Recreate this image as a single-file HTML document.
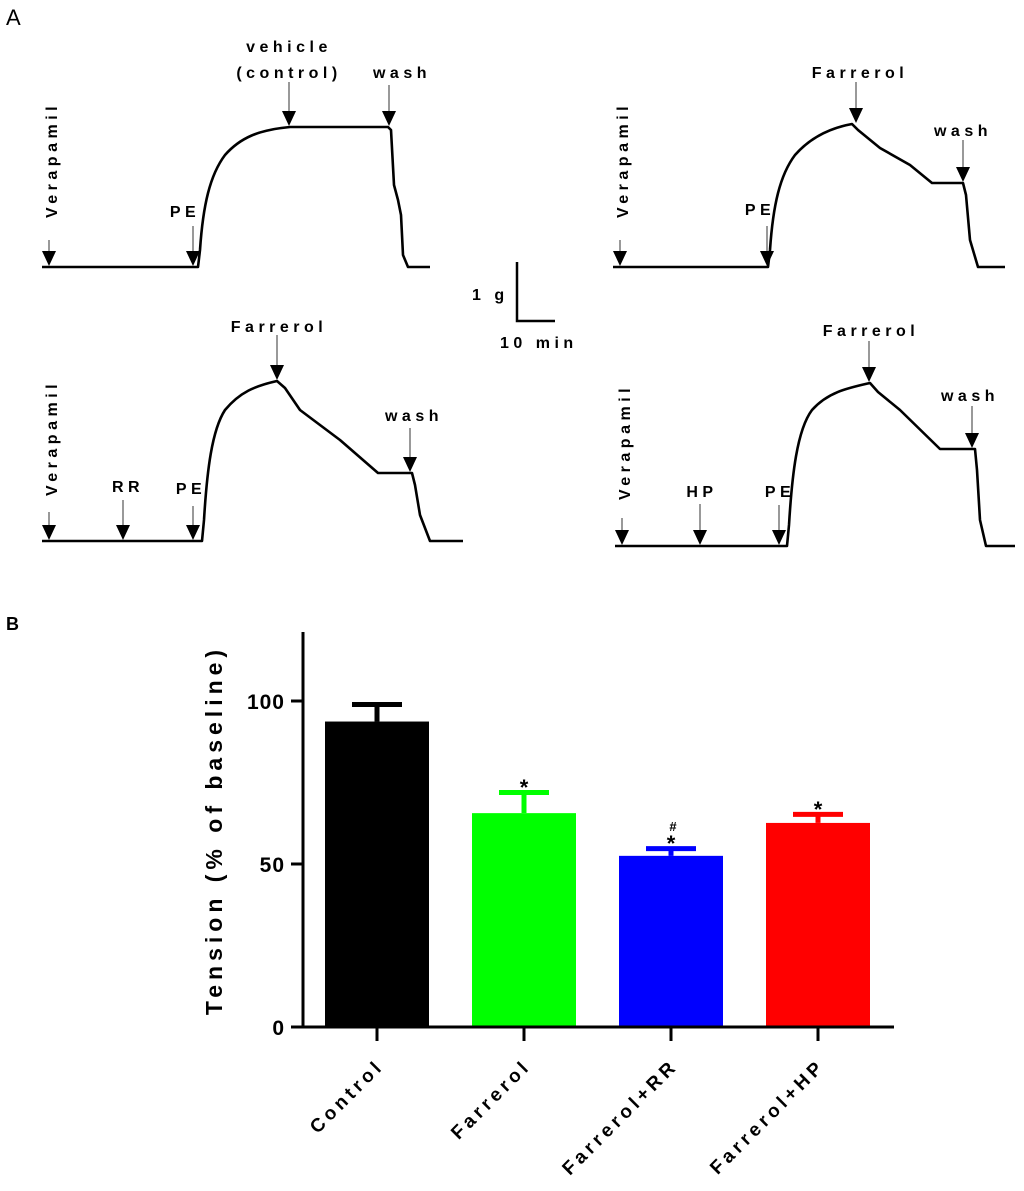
<!DOCTYPE html>
<html><head><meta charset="utf-8">
<style>
html,body{margin:0;padding:0;background:#fff;}
svg{display:block;font-family:"Liberation Sans",Arial,sans-serif;}
.lbl{font-weight:bold;font-size:16px;letter-spacing:4.5px;}
</style></head>
<body>
<svg id="fig" width="1024" height="1191" viewBox="0 0 1024 1191">
<text x="6" y="25" font-size="22">A</text>
<text x="6" y="630" font-size="18" font-weight="bold">B</text>
<g id="traces"></g>
<g>
<path d="M517 262 V321 H555" fill="none" stroke="#000" stroke-width="2.5"/>
<text x="472" y="300" class="lbl">1 g</text>
<text x="500" y="348" class="lbl">10 min</text>
</g>
<g id="chart"></g>
</svg>
<script>
const NS='http://www.w3.org/2000/svg';
function mk(tag,attrs,parent){const e=document.createElementNS(NS,tag);for(const k in attrs)e.setAttribute(k,attrs[k]);parent.appendChild(e);return e;}
const traces=document.getElementById('traces');
const tracePaths=[
"M42 267 H198 L200 250 C203 205 210 175 225 155 C240 138 258 130 290 127 H388 L391 130 L394 185 L398 200 L401 215 L403 255 L408 267 H430",
"M613 267 H768 L770 250 C773 205 780 175 795 155 C810 138 830 128 852 124 L858 130 L880 148 L910 165 L932 183 H963 L966 195 L970 240 L978 267 H1005",
"M42 541 H202 L204 520 C207 470 212 430 225 410 C240 392 255 386 277 381 L285 388 L300 410 L340 440 L378 473 H412 L415 485 L420 515 L430 541 H463",
"M615 546 H787 L789 525 C792 475 797 430 812 410 C828 392 848 388 870 383 L878 392 L900 410 L940 449 H975 L977 470 L980 520 L986 546 H1015"
];
tracePaths.forEach(function(d,i){
 const p=mk('path',{d:d,fill:'none',stroke:'#000','stroke-width':2.6,'stroke-linejoin':'round'},traces);
 
 
});
const arrows=[
[49,267,240,'Verapamil',57,218,true],[193,267,226,'PE',185,217,false],[289,127,82,'vehicle',289,52,false],[289,127,82,'(control)',289,78,false],[389,127,85,'wash',402,78,false],
[620,267,240,'Verapamil',628,218,true],[767,267,226,'PE',760,215,false],[856,124,82,'Farrerol',860,78,false],[963,183,140,'wash',963,136,false],
[49,541,512,'Verapamil',57,496,true],[123,541,500,'RR',128,492,false],[193,541,506,'PE',191,494,false],[277,381,335,'Farrerol',279,332,false],[410,473,428,'wash',414,421,false],
[622,546,518,'Verapamil',630,500,true],[700,546,504,'HP',702,497,false],[779,546,505,'PE',780,497,false],[869,383,341,'Farrerol',871,336,false],[972,449,406,'wash',970,401,false]
];
arrows.forEach(function(a,i){
 if(!(a[3]==='vehicle')){
 const l=mk('line',{x1:a[0],y1:a[2],x2:a[0],y2:a[1]-14,stroke:'#555','stroke-width':1.2},traces);
 
 
 const t=mk('polygon',{points:(a[0]-7)+','+(a[1]-16)+' '+(a[0]+7)+','+(a[1]-16)+' '+a[0]+','+(a[1]-1),fill:'#000'},traces);
 
 
 }
 const tx=mk('text',{x:a[4],y:a[5],'class':'lbl','text-anchor':a[6]?'start':'middle'},traces);
 if(a[6]){tx.setAttribute('transform','rotate(-90 '+a[4]+' '+a[5]+')');tx.setAttribute('letter-spacing','5.5');}
 tx.textContent=a[3];
 
 
});

// ---- bar chart data ----
const categories=['Control','Farrerol','Farrerol+RR','Farrerol+HP'];
const means=[93.7,65.6,52.5,62.6];
const errors=[6.0,7.1,3.0,3.4];
const colors=['#000000','#00ff00','#0000ff','#ff0000'];
const sigMarks=['','*','*','*'];
const hashMarks=['','','#',''];
const yTicks=[0,50,100];

const chart=document.getElementById('chart');
const X0=303,Y0=1027,PX=3.26,BW=104,STEP=147,FIRST=325;
function y(v){return Y0-v*PX;}
function xl(i){return FIRST+i*STEP;}
categories.forEach(function(c,i){
 const x=xl(i),cx=x+BW/2;
 const cap=y(means[i]+errors[i]);
 const eb=mk('path',{d:'M'+cx+' '+y(means[i])+' V'+cap+' M'+(cx-25)+' '+(cap+2.5)+' H'+(cx+25),stroke:colors[i],'stroke-width':5,fill:'none'},chart);
 
 
 const r=mk('rect',{x:x,y:y(means[i]),width:BW,height:Y0-y(means[i]),fill:colors[i]},chart);
 
 
 const tk=mk('line',{x1:cx,y1:Y0,x2:cx,y2:Y0+14,stroke:'#000','stroke-width':3},chart);
 
 
 const lx=cx+8,ly=Y0+40;
 const lt=mk('text',{x:lx,y:ly,'text-anchor':'end','font-size':19,'font-weight':'bold','letter-spacing':'4',transform:'rotate(-45 '+lx+' '+ly+')'},chart);
 lt.textContent=c;
 
 
 if(sigMarks[i]){
  const s=mk('text',{x:cx,y:cap+5,'text-anchor':'middle','font-size':22,'font-weight':'bold'},chart);
  s.textContent=sigMarks[i];
  
  
 }
 if(hashMarks[i]){
  const h=mk('text',{x:cx+2,y:cap-15,'text-anchor':'middle','font-size':13,'font-weight':'bold'},chart);
  h.textContent=hashMarks[i];
  
  
 }
});
const ax=mk('path',{d:'M'+X0+' 632 V'+Y0+' H894',stroke:'#000','stroke-width':3,fill:'none'},chart);


yTicks.forEach(function(v){
 const t=mk('line',{x1:X0-12,y1:y(v),x2:X0,y2:y(v),stroke:'#000','stroke-width':3},chart);
 
 
 const tl=mk('text',{x:X0-18,y:y(v)+8,'text-anchor':'end','font-size':21,'font-weight':'bold','letter-spacing':'1'},chart);
 tl.textContent=String(v);
 
 
});
const yt=mk('text',{x:222,y:830,'text-anchor':'middle','font-size':23,'font-weight':'bold','letter-spacing':'5',transform:'rotate(-90 222 830)'},chart);
yt.textContent='Tension (% of baseline)';


</script>
</body></html>
